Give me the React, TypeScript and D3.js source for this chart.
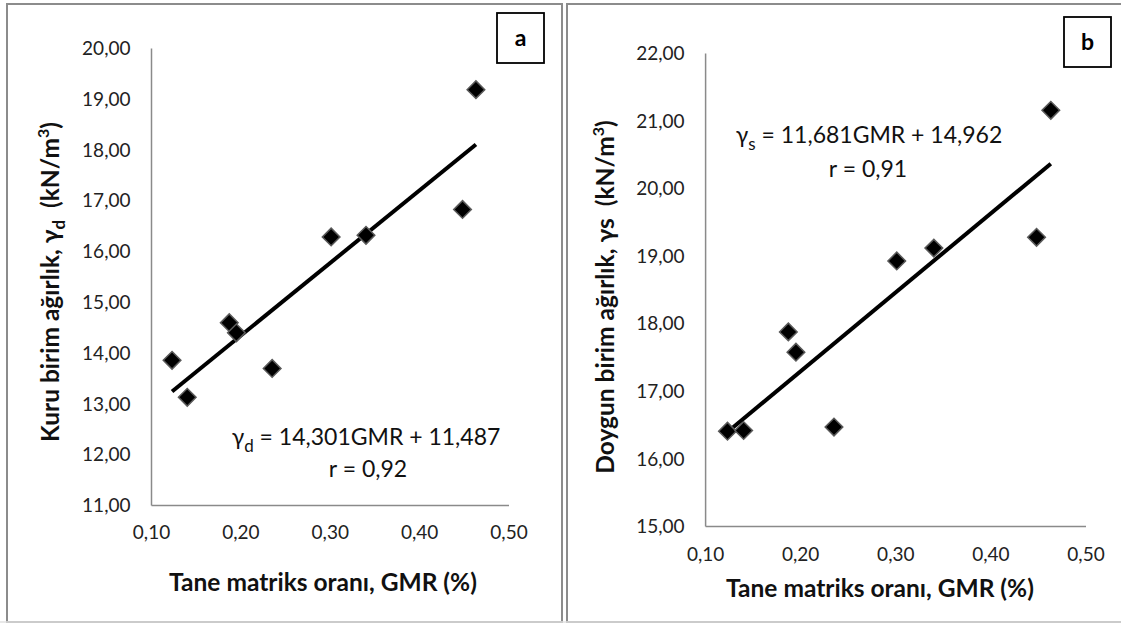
import React from "react";
import * as d3 from "d3";

// ---- data ----
const gmr = [0.123, 0.14, 0.187, 0.195, 0.235, 0.301, 0.34, 0.448, 0.463];
const dryUnitWeight = [13.86, 13.13, 14.6, 14.4, 13.7, 16.29, 16.32, 16.83, 19.19];
const satUnitWeight = [16.41, 16.42, 17.88, 17.58, 16.47, 18.93, 19.12, 19.28, 21.16];
const xTicks = [0.1, 0.2, 0.3, 0.4, 0.5];
const yTicksA = [11, 12, 13, 14, 15, 16, 17, 18, 19, 20];
const yTicksB = [15, 16, 17, 18, 19, 20, 21, 22];
const fitA = { slope: 14.301, intercept: 11.487, r: "0,92" };
const fitB = { slope: 11.681, intercept: 14.962, r: "0,91" };

const FONT = "Lato, 'Open Sans', sans-serif";
const fmt = (v: number) => d3.format(".2f")(v).replace(".", ",");

type PanelProps = {
  ys: number[];
  yTicks: number[];
  x0: number; x1: number; yTop: number; yBot: number;
  yDomain: [number, number];
  fit: { slope: number; intercept: number; r: string };
  letter: string;
  box: [number, number, number, number];
  yTitle: React.ReactNode;
  yTitleX: number; yTitleY: number;
  xTitleX: number; xTitleY: number; xLabelY: number;
  eq: React.ReactNode; eqX: number; eqY: number; rX: number; rY: number;
};

function Panel(p: PanelProps) {
  const x = d3.scaleLinear().domain([0.1, 0.5]).range([p.x0, p.x1]);
  const y = d3.scaleLinear().domain(p.yDomain).range([p.yBot, p.yTop]);
  const xmin = d3.min(gmr)!;
  const xmax = d3.max(gmr)!;
  const line = d3.line<number>()
    .x((d) => x(d))
    .y((d) => y(p.fit.slope * d + p.fit.intercept));
  const diamond = d3.symbol().type(d3.symbolSquare).size(155)();
  return (
    <g fontFamily={FONT}>
      {/* axes */}
      <line x1={p.x0} x2={p.x0} y1={p.yTop} y2={p.yBot} stroke="#8a8a8a" strokeWidth={1.5} />
      <line x1={p.x0} x2={p.x1} y1={p.yBot} y2={p.yBot} stroke="#8a8a8a" strokeWidth={1.5} />
      {p.yTicks.map((t) => (
        <text key={t} x={p.x0 - 21} y={y(t)} dy="0.35em" textAnchor="end" fontSize={19} fill="#222">
          {fmt(t)}
        </text>
      ))}
      {xTicks.map((t) => (
        <text key={t} x={x(t)} y={p.xLabelY} dy="0.35em" textAnchor="middle" fontSize={19} fill="#222">
          {fmt(t)}
        </text>
      ))}
      {/* trend line */}
      <path d={line([xmin, xmax]) || ""} stroke="#000" strokeWidth={4} fill="none" />
      {/* points */}
      {gmr.map((g, i) => (
        <path
          key={i}
          d={diamond || ""}
          transform={`translate(${x(g)},${y(p.ys[i])}) rotate(45)`}
          fill="#000"
          stroke="#5a5a5a"
          strokeWidth={1.5}
        />
      ))}
      {/* equation */}
      <text x={p.eqX} y={p.eqY} dy="0.35em" textAnchor="middle" fontSize={23} fill="#111">{p.eq}</text>
      <text x={p.rX} y={p.rY} dy="0.35em" textAnchor="middle" fontSize={23} fill="#111">r = {p.fit.r}</text>
      {/* titles */}
      <text x={p.xTitleX} y={p.xTitleY} dy="0.35em" textAnchor="middle" fontSize={24.5} fontWeight="bold" fill="#111">
        Tane matriks oranı, GMR (%)
      </text>
      <text
        transform={`translate(${p.yTitleX},${p.yTitleY}) rotate(-90)`}
        dy="0.35em"
        textAnchor="middle"
        fontSize={24.5}
        fontWeight="bold"
        fill="#111"
      >
        {p.yTitle}
      </text>
      {/* letter box */}
      <rect x={p.box[0]} y={p.box[1]} width={p.box[2] - p.box[0]} height={p.box[3] - p.box[1]} fill="#fff" stroke="#000" strokeWidth={1.8} />
      <text x={(p.box[0] + p.box[2]) / 2} y={(p.box[1] + p.box[3]) / 2} dy="0.35em" textAnchor="middle" fontSize={23} fontWeight="bold">
        {p.letter}
      </text>
    </g>
  );
}

export default function App() {
  return (
    <svg width={1121} height={623} style={{ position: "absolute", left: 0, top: 0, background: "#fff" }}>
      <rect x={0} y={0} width={1121} height={623} fill="#fff" />
      {/* frames */}
      <rect x={7} y={4} width={555} height={618} fill="none" stroke="#8c8c8c" strokeWidth={2} />
      <rect x={567} y={4} width={600} height={618} fill="none" stroke="#8c8c8c" strokeWidth={2} />
      <line x1={0} x2={1121} y1={622} y2={622} stroke="#e0e0e0" strokeWidth={1.5} />
      <Panel
        ys={dryUnitWeight}
        yTicks={yTicksA}
        x0={151.5} x1={509} yTop={48.5} yBot={505.5}
        yDomain={[11, 20]}
        fit={fitA}
        letter="a"
        box={[497, 13, 544, 63]}
        yTitle={<>Kuru birim ağırlık, γ<tspan fontSize={17} dy="6">d</tspan><tspan dy="-6">{"\u00a0\u00a0"}(kN/m</tspan><tspan fontSize={16} dy="-10">3</tspan><tspan dy="10">)</tspan></>}
        yTitleX={50} yTitleY={282}
        xTitleX={323} xTitleY={582} xLabelY={532}
        eq={<>γ<tspan fontSize={17} dy="7">d</tspan><tspan dy="-7"> = 14,301GMR + 11,487</tspan></>}
        eqX={366} eqY={437} rX={368} rY={469}
      />
      <Panel
        ys={satUnitWeight}
        yTicks={yTicksB}
        x0={705.6} x1={1086} yTop={53.6} yBot={526.4}
        yDomain={[15, 22]}
        fit={fitB}
        letter="b"
        box={[1064, 17, 1111, 67]}
        yTitle={<>Doygun birim ağırlık, γs{"\u00a0\u00a0"}(kN/m<tspan fontSize={16} dy="-10">3</tspan><tspan dy="10">)</tspan></>}
        yTitleX={605} yTitleY={297}
        xTitleX={880} xTitleY={588} xLabelY={554}
        eq={<>γ<tspan fontSize={17} dy="7">s</tspan><tspan dy="-7"> = 11,681GMR + 14,962</tspan></>}
        eqX={869} eqY={135} rX={868} rY={169}
      />
    </svg>
  );
}
